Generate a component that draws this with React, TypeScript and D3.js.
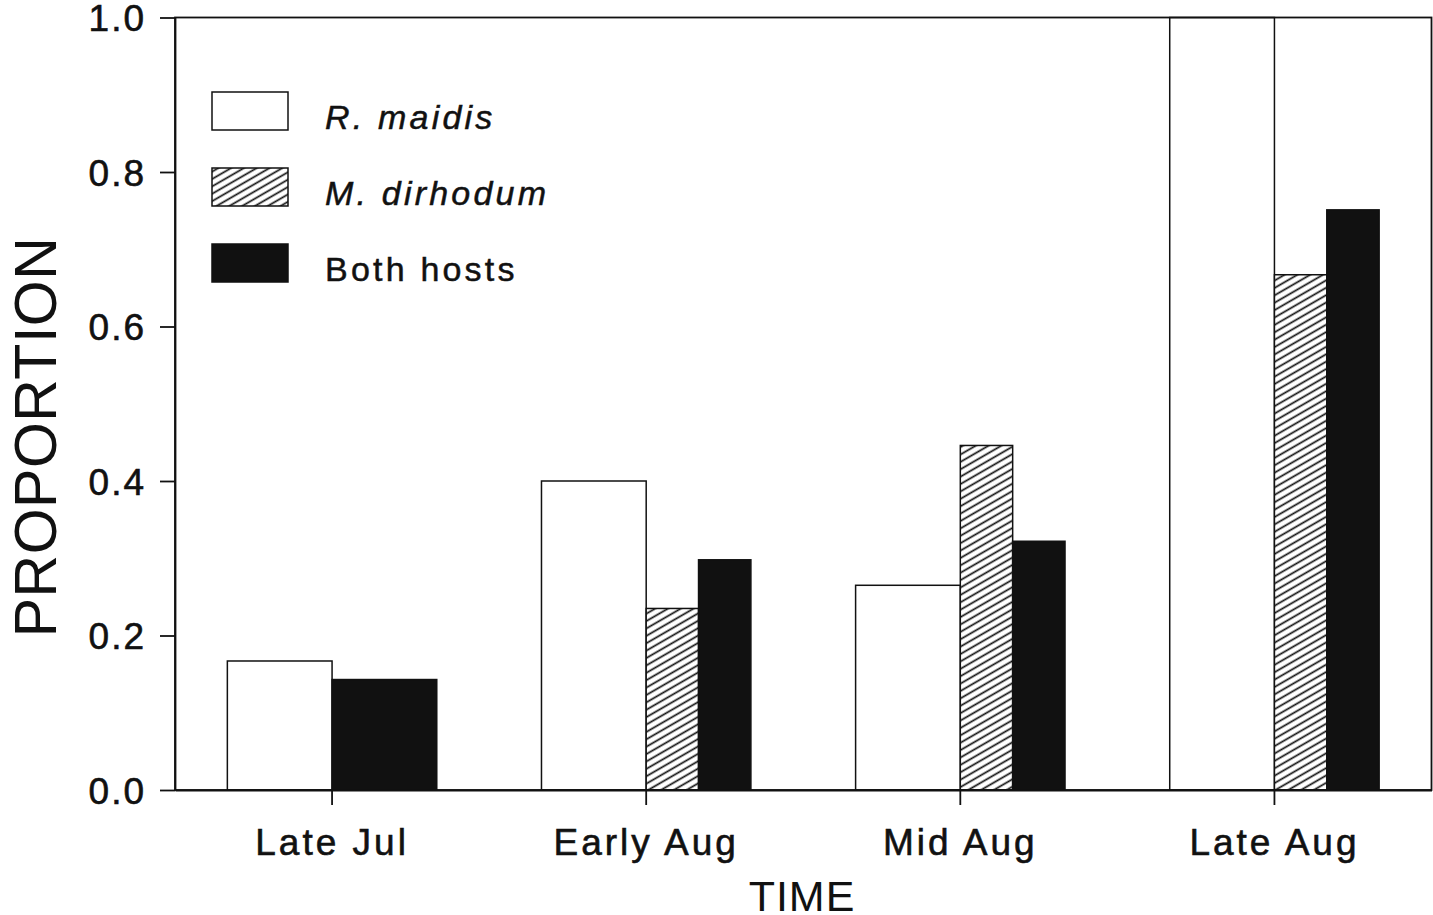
import React, { useRef, useEffect } from "react";
import * as d3 from "d3";

// values
const categories = ["Late Jul", "Early Aug", "Mid Aug", "Late Aug"];
const rMaidis = [0.167, 0.4, 0.265, 1.0];
const mDirhodum: (number | null)[] = [null, 0.235, 0.446, 0.667];
const bothHosts = [0.143, 0.298, 0.322, 0.751];
const yTicks = [0, 0.2, 0.4, 0.6, 0.8, 1.0];
const legendLabels = ["R. maidis", "M. dirhodum", "Both hosts"];
const legendItalic = [true, true, false];

const FONT = "'Liberation Sans', Arial, Helvetica, sans-serif";

function BarChart({ width = 1433, height = 915 }) {
  const svgRef = useRef(null);

  useEffect(() => {
    const svg = d3.select(svgRef.current);
    svg.selectAll("*").remove();

    const margin = { top: 17.5, right: 1.5, bottom: 125, left: 175 };
    const innerWidth = width - margin.left - margin.right;
    const innerHeight = height - margin.top - margin.bottom;

    const defs = svg.append("defs");
    const pat = defs.append("pattern")
      .attr("id", "hatch")
      .attr("patternUnits", "userSpaceOnUse")
      .attr("width", 8)
      .attr("height", 6.4)
      .attr("patternTransform", "rotate(-30)");
    pat.append("rect").attr("width", 8).attr("height", 6.4).attr("fill", "#fff");
    pat.append("line")
      .attr("x1", 0).attr("x2", 8)
      .attr("y1", 3.2).attr("y2", 3.2)
      .attr("stroke", "#111")
      .attr("stroke-width", 1.7);

    const x0 = d3.scaleBand()
      .domain(categories)
      .range([0, innerWidth])
      .paddingInner(1 / 3)
      .paddingOuter(1 / 6);

    const y = d3.scaleLinear().domain([0, 1]).range([innerHeight, 0]);

    const g = svg.append("g")
      .attr("transform", `translate(${margin.left},${margin.top})`);

    // bars: white on the left half, hatched + black share the right half
    categories.forEach((c, i) => {
      const left = x0(c) as number;
      const halves = d3.scaleBand().domain(["r", "rest"]).range([left, left + x0.bandwidth()]);
      const restLeft = halves("rest") as number;
      const hw = halves.bandwidth();

      const bars: { x: number; w: number; v: number; fill: string }[] = [];
      bars.push({ x: halves("r") as number, w: hw, v: rMaidis[i], fill: "#fff" });
      const m = mDirhodum[i];
      if (m != null) {
        const split = d3.scaleBand().domain(["m", "b"]).range([restLeft, restLeft + hw]);
        bars.push({ x: split("m") as number, w: split.bandwidth(), v: m, fill: "url(#hatch)" });
        bars.push({ x: split("b") as number, w: split.bandwidth(), v: bothHosts[i], fill: "#111" });
      } else {
        bars.push({ x: restLeft, w: hw, v: bothHosts[i], fill: "#111" });
      }

      g.append("g").selectAll("rect")
        .data(bars)
        .join("rect")
        .attr("x", d => d.x)
        .attr("y", d => y(d.v))
        .attr("width", d => d.w)
        .attr("height", d => innerHeight - y(d.v))
        .attr("fill", d => d.fill)
        .attr("stroke", "#111")
        .attr("stroke-width", 1.5);
    });

    // frame
    g.append("rect")
      .attr("width", innerWidth)
      .attr("height", innerHeight)
      .attr("fill", "none")
      .attr("stroke", "#111")
      .attr("stroke-width", 1.8);

    // y axis
    const yAxis = g.append("g")
      .call(d3.axisLeft(y).tickValues(yTicks).tickFormat(d3.format(".1f")).tickSize(15).tickPadding(14).tickSizeOuter(0));
    yAxis.select(".domain").attr("stroke", "#111").attr("stroke-width", 1.8);
    yAxis.selectAll(".tick line").attr("stroke", "#111").attr("stroke-width", 1.8);
    yAxis.selectAll(".tick text")
      .attr("fill", "#111")
      .attr("stroke", "#111")
      .attr("stroke-width", 0.6)
      .attr("font-family", FONT)
      .attr("font-size", 37)
      .attr("letter-spacing", 2)
      .attr("dy", "0.36em");

    // x axis
    const xAxis = g.append("g")
      .attr("transform", `translate(0,${innerHeight})`)
      .call(d3.axisBottom(x0).tickSize(15).tickSizeOuter(0));
    xAxis.select(".domain").attr("stroke", "#111").attr("stroke-width", 1.8);
    xAxis.selectAll(".tick line").attr("stroke", "#111").attr("stroke-width", 1.8);
    xAxis.selectAll(".tick text")
      .attr("fill", "#111")
      .attr("stroke", "#111")
      .attr("stroke-width", 0.6)
      .attr("font-family", FONT)
      .attr("font-size", 37)
      .attr("letter-spacing", 3)
      .attr("y", 65)
      .attr("dy", 0);

    // axis titles
    svg.append("text")
      .attr("transform", `translate(56,437) rotate(-90)`)
      .attr("text-anchor", "middle")
      .attr("font-family", FONT)
      .attr("font-size", 59)
      .attr("letter-spacing", 0.5)
      .attr("fill", "#111")
      .text("PROPORTION");

    svg.append("text")
      .attr("x", 802)
      .attr("y", 911)
      .attr("text-anchor", "middle")
      .attr("font-family", FONT)
      .attr("font-size", 43)
      .attr("letter-spacing", 1)
      .attr("fill", "#111")
      .text("TIME");

    // legend
    const fills = ["#fff", "url(#hatch)", "#111"];
    const legend = svg.append("g").attr("transform", "translate(212,92)");
    legendLabels.forEach((lab, i) => {
      const row = legend.append("g").attr("transform", `translate(0,${i * 76})`);
      row.append("rect")
        .attr("width", 76)
        .attr("height", 38)
        .attr("fill", fills[i])
        .attr("stroke", "#111")
        .attr("stroke-width", 1.5);
      row.append("text")
        .attr("x", 113)
        .attr("y", 37)
        .attr("font-family", FONT)
        .attr("font-size", 34)
        .attr("font-style", legendItalic[i] ? "italic" : "normal")
        .attr("letter-spacing", 3.2)
        .attr("fill", "#111")
        .attr("stroke", "#111")
        .attr("stroke-width", 0.5)
        .text(lab);
    });
  }, [width, height]);

  return <svg ref={svgRef} width={width} height={height} style={{ display: "block" }}></svg>;
}

export default function App() {
  return (
    <div style={{ position: "fixed", left: 0, top: 0, background: "#fff" }}>
      <BarChart />
    </div>
  );
}
